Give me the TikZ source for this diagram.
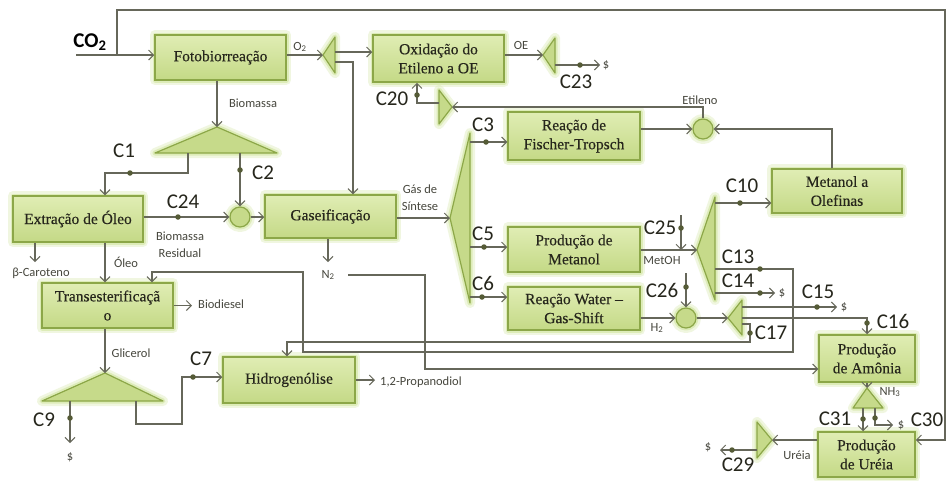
\documentclass[tikz,border=0pt]{standalone}
\usepackage{fontspec}
\setmainfont{Liberation Serif}
\newfontfamily\unitfont{Liberation Serif}[FakeBold=0.35]
\newfontfamily\labelfont{Carlito}
\usetikzlibrary{arrows.meta,calc}

\definecolor{boxtop}{HTML}{E0EDB4}
\definecolor{boxbot}{HTML}{C4D986}
\definecolor{boxedge}{HTML}{8CA748}
\definecolor{glowc}{HTML}{D6E8A8}
\definecolor{wirec}{HTML}{66675A}
\definecolor{dotc}{HTML}{555B36}
\definecolor{trifill}{HTML}{C6DA8A}
\definecolor{txt}{HTML}{26261C}

\tikzset{
  halo/.style={preaction={draw=glowc, line width=10pt, opacity=0.35, line join=round},
               preaction={draw=glowc, line width=5pt, opacity=0.7, line join=round}},
  unit/.style={halo, draw=boxedge, line width=1.5pt, top color=boxtop, bottom color=boxbot,
               align=center, text=txt, font=\unitfont\fontsize{15.5}{19}\selectfont, inner sep=1pt},
  mixer/.style={halo, circle, draw=boxedge, line width=1.2pt, fill=trifill, minimum size=20pt, inner sep=0pt},
  splitter/.style={halo, draw=boxedge, line width=1.2pt, fill=trifill, line join=round},
  wire/.style={draw=wirec, line width=1.1pt},
  arr/.style={wire, -{Straight Barb[length=5pt,width=10pt,line width=1pt]}},
  cpt/.style={circle, fill=dotc, inner sep=0pt, minimum size=5.5pt},
  clabel/.style={font=\labelfont\fontsize{21}{21}\selectfont, text=txt, inner sep=0pt},
  slabel/.style={font=\labelfont\fontsize{12.5}{17}\selectfont, text=txt!85, inner sep=0pt, align=center},
}

\begin{document}
\begin{tikzpicture}[x=1pt,y=-1pt]
\useasboundingbox (0,0) rectangle (946,480);
\fill[white] (0,0) rectangle (946,480);

% ---------------- process units ----------------
\node[unit, minimum width=131pt, minimum height=45pt] (foto)  at (220.5,57.5) {Fotobiorreação};
\node[unit, minimum width=131pt, minimum height=47pt] (oxid)  at (438.5,58.5) {Oxidação do\\Etileno a OE};
\node[unit, minimum width=132pt, minimum height=48pt] (ft)    at (574,136)    {Reação de\\Fischer-Tropsch};
\node[unit, minimum width=130pt, minimum height=44pt] (olef)  at (837,191)    {Metanol a\\Olefinas};
\node[unit, minimum width=131pt, minimum height=43pt] (gas)   at (330.5,216.5) {Gaseificação};
\node[unit, minimum width=130pt, minimum height=46pt] (extr)  at (78,219)     {Extração de Óleo};
\node[unit, minimum width=132pt, minimum height=45pt] (meoh)  at (574,249.5)  {Produção de\\Metanol};
\node[unit, minimum width=132pt, minimum height=43pt] (wgs)   at (574,308.5)  {Reação Water –\\Gas-Shift};
\node[unit, minimum width=131pt, minimum height=45pt] (trans) at (107.5,305.5) {Transesterificaçã\\o};
\node[unit, minimum width=132pt, minimum height=46pt] (hidro) at (289,380)    {Hidrogenólise};
\node[unit, minimum width=96pt,  minimum height=47pt] (amon)  at (867,358.5)  {Produção\\de Amônia};
\node[unit, minimum width=97pt,  minimum height=45pt] (urea)  at (866.5,454.5) {Produção\\de Uréia};

% ---------------- mixers ----------------
\node[mixer] (mixB) at (240,217) {};
\node[mixer] (mixE) at (703,129) {};
\node[mixer] (mixH) at (686,318) {};

% ---------------- splitters ----------------
\path[splitter] (335,37) -- (323,55) -- (335,73) -- cycle;      % O2
\path[splitter] (555,38) -- (543,55) -- (555,73) -- cycle;      % OE
\path[splitter] (439,90) -- (452,107) -- (439,124) -- cycle;    % ethylene
\path[splitter] (155,153) -- (217,127) -- (277,153) -- cycle;   % biomass
\path[splitter] (470,133) -- (450,218) -- (470,303) -- cycle;   % syngas
\path[splitter] (715,197) -- (697,250) -- (715,300) -- cycle;   % methanol
\path[splitter] (742,300) -- (728,318) -- (742,335) -- cycle;   % hydrogen
\path[splitter] (42,401) -- (105,373) -- (163,401) -- cycle;    % glycerol
\path[splitter] (853,408) -- (867,388) -- (883,408) -- cycle;   % ammonia
\path[splitter] (757,422) -- (772,440) -- (757,458) -- cycle;   % urea

% ports
\coordinate (co2in) at (76,55);   \coordinate (co2tap) at (117,55);  \coordinate (loopNE) at (945,10);
\coordinate (t1in) at (323,55);   \coordinate (t1a) at (335,52);     \coordinate (t1b) at (335,62);
\coordinate (t2in) at (543,55);   \coordinate (t2out) at (555,65);   \coordinate (s23) at (600,65);
\coordinate (t3in) at (452,107);  \coordinate (t3out) at (439,103);
\coordinate (tbIn) at (217,127);  \coordinate (tbL) at (188,153);    \coordinate (tbR) at (240,153);
\coordinate (c1bend) at (188,173);
\coordinate (tsIn) at (450,218);
\coordinate (ts3) at (470,142);   \coordinate (ts5) at (470,247);    \coordinate (ts6) at (470,297);
\coordinate (n2arr) at (328,262); \coordinate (n2start) at (348,275); \coordinate (n2bend) at (425,369);
\coordinate (tmIn) at (697,250);  \coordinate (c25top) at (681,215);
\coordinate (tm10) at (715,203);  \coordinate (tm13) at (715,269);   \coordinate (tm14) at (715,293);
\coordinate (s14) at (775,293);   \coordinate (c13bend) at (793,352); \coordinate (c13up) at (303,272);
\coordinate (c26top) at (686,273);
\coordinate (thIn) at (728,318);  \coordinate (th15) at (742,307);   \coordinate (s15) at (837,307);
\coordinate (th16) at (742,318);  \coordinate (th17) at (742,324);   \coordinate (c17bend) at (750,342);
\coordinate (betaArr) at (35,262); \coordinate (bioArr) at (192,305.5);
\coordinate (tgIn) at (105,373);  \coordinate (tg9) at (70,401);     \coordinate (s9) at (70,443);
\coordinate (tg7) at (136,401);   \coordinate (c7a) at (136,424);    \coordinate (c7b) at (182,424);
\coordinate (propArr) at (375,380);
\coordinate (tnIn) at (867,388);  \coordinate (tn31) at (863,408);   \coordinate (tn30) at (875,408);
\coordinate (c30b) at (875,425);  \coordinate (s30) at (893,425);
\coordinate (tuIn) at (772,440);  \coordinate (tuOut) at (757,450);  \coordinate (s29) at (720,450);

% ---------------- streams ----------------
\draw[arr] (co2in) -- (co2in -| foto.west);
\draw[arr] (co2tap) |- (loopNE) |- ([yshift=14.5pt]urea.east);
\draw[arr] (foto.east |- t1in) -- (t1in);
\draw[arr] (t1a) -- (t1a -| oxid.west);
\draw[arr] (t1b) -| ([xshift=22.5pt]gas.north);
\draw[arr] (oxid.east |- t2in) -- (t2in);
\draw[arr] (t2out) -- (s23);
\draw[arr] (t3out) -| ([xshift=-21.5pt]oxid.south);
\draw[arr] (mixE.north) |- (t3in);
\draw[arr] (ft.east |- mixE.west) -- (mixE.west);
\draw[arr] ([xshift=-5pt]olef.north) |- (mixE.east);
\draw[arr] (foto.south -| tbIn) -- (tbIn);
\draw[arr] (tbL) -- (c1bend) -| ([xshift=27pt]extr.north);
\draw[arr] (tbR) -- (mixB.north);
\draw[arr] (extr.east |- mixB.west) -- (mixB.west);
\draw[arr] (mixB.east) -- (mixB.east -| gas.west);
\draw[arr] (gas.east |- tsIn) -- (tsIn);
\draw[arr] ([xshift=-2.5pt]gas.south) -- (n2arr);
\draw[arr] (n2start) -| (n2bend) -- (n2bend -| amon.west);
\draw[arr] (ts3) -- (ts3 -| ft.west);
\draw[arr] (ts5) -- (ts5 -| meoh.west);
\draw[arr] (ts6) -- (ts6 -| wgs.west);
\draw[arr] (meoh.east |- tmIn) -- (tmIn);
\draw[arr] (c25top) -- (c25top |- tmIn);
\draw[arr] (tm10) -- (tm10 -| olef.west);
\draw[arr] (tm13) -| (c13bend) -| (c13up) -| ([xshift=44.5pt]trans.north);
\draw[arr] (tm14) -- (s14);
\draw[arr] (wgs.east |- mixH.west) -- (mixH.west);
\draw[arr] (c26top) -- (mixH.north);
\draw[arr] (mixH.east) -- (thIn);
\draw[arr] (th15) -- (s15);
\draw[arr] (th16) -| (amon.north);
\draw[arr] (th17) -| (c17bend) -| ([xshift=-2pt]hidro.north);
\draw[arr] ([xshift=-43pt]extr.south) -- (betaArr);
\draw[arr] ([xshift=27pt]extr.south) -- ([xshift=-2.5pt]trans.north);
\draw[arr] (trans.east) -- (bioArr);
\draw[arr] ([xshift=-2.5pt]trans.south) -- (tgIn);
\draw[arr] (tg9) -- (s9);
\draw[arr] (tg7) -- (c7a) -- (c7b) |- ([yshift=3pt]hidro.west);
\draw[arr] (hidro.east) -- (propArr);
\draw[arr] (amon.south) -- (tnIn);
\draw[arr] (tn31) -- (tn31 |- urea.north);
\draw[arr] (tn30) -- (c30b) -- (s30);
\draw[arr] ([yshift=14.5pt]urea.west) -- (tuIn);
\draw[arr] (tuOut) -- (s29);

% ---------------- cost points ----------------
\foreach \p/\n in {{580,65}/d23,{417,95}/d20,{486,142}/d3,{484,247}/d5,{482,297}/d6,
  {740,203}/d10,{681,228}/d25,{760,269}/d13,{760,293}/d14,{686,287}/d26,{817,307}/d15,
  {867,323}/d16,{750,333}/d17,{130,173}/d1,{240,170}/d2,{178,217}/d24,{193,377}/d7,
  {70,418}/d9,{863,419}/d31,{875,418}/d30,{732,450}/d29}
  \node[cpt] (\n) at (\p) {};

\node[clabel] (lC23) at (576,82)  {C23};
\node[clabel] (lC20) at (392,99)  {C20};
\node[clabel] (lC3)  at (483,125) {C3};
\node[clabel] (lC5)  at (483,234) {C5};
\node[clabel] (lC6)  at (483,283) {C6};
\node[clabel] (lC10) at (742,186) {C10};
\node[clabel] (lC25) at (660,228) {C25};
\node[clabel] (lC13) at (738,257) {C13};
\node[clabel] (lC14) at (738,281) {C14};
\node[clabel] (lC26) at (662,290) {C26};
\node[clabel] (lC15) at (818,292) {C15};
\node[clabel] (lC16) at (893,321) {C16};
\node[clabel] (lC17) at (771,333) {C17};
\node[clabel] (lC1)  at (124,151) {C1};
\node[clabel] (lC2)  at (263,173) {C2};
\node[clabel] (lC24) at (183,202) {C24};
\node[clabel] (lC7)  at (201,359) {C7};
\node[clabel] (lC9)  at (44,420)  {C9};
\node[clabel] (lC31) at (835,419) {C31};
\node[clabel] (lC30) at (927,420) {C30};
\node[clabel] (lC29) at (738,465) {C29};

% ---------------- stream names ----------------
\node[font=\labelfont\bfseries\fontsize{21}{21}\selectfont, text=black, inner sep=0pt] (co2) at (90,42) {CO\textsubscript{2}};
\node[slabel] (lO2)   at (300,47)  {O\textsubscript{2}};
\node[slabel] (lOE)   at (521,45)  {OE};
\node[slabel] (l23)   at (606,65)  {\$};
\node[slabel] (lEt)   at (700,100) {Etileno};
\node[slabel] (lBio)  at (253,103) {Biomassa};
\node[slabel] (lSyn)  at (420,198) {Gás de\\Síntese};
\node[slabel] (lN2)   at (328,275) {N\textsubscript{2}};
\node[slabel] (lRes)  at (180,245) {Biomassa\\Residual};
\node[slabel] (lBeta) at (41,273)  {β-Caroteno};
\node[slabel] (lOil)  at (126,262) {Óleo};
\node[slabel, anchor=west] (lBd) at (198,304) {Biodiesel};
\node[slabel] (lGly)  at (131,353) {Glicerol};
\node[slabel] (l9)    at (70,457)  {\$};
\node[slabel, anchor=west] (lPd) at (380,382) {1,2-Propanodiol};
\node[slabel] (lMe)   at (662,260) {MetOH};
\node[slabel] (l14)   at (782,293) {\$};
\node[slabel] (l15)   at (844,307) {\$};
\node[slabel] (lH2)   at (657,328) {H\textsubscript{2}};
\node[slabel] (lNH3)  at (890,392) {NH\textsubscript{3}};
\node[slabel] (l30)   at (901,425) {\$};
\node[slabel] (lUr)   at (797,455) {Uréia};
\node[slabel] (l29)   at (708,447) {\$};
\end{tikzpicture}
\end{document}
